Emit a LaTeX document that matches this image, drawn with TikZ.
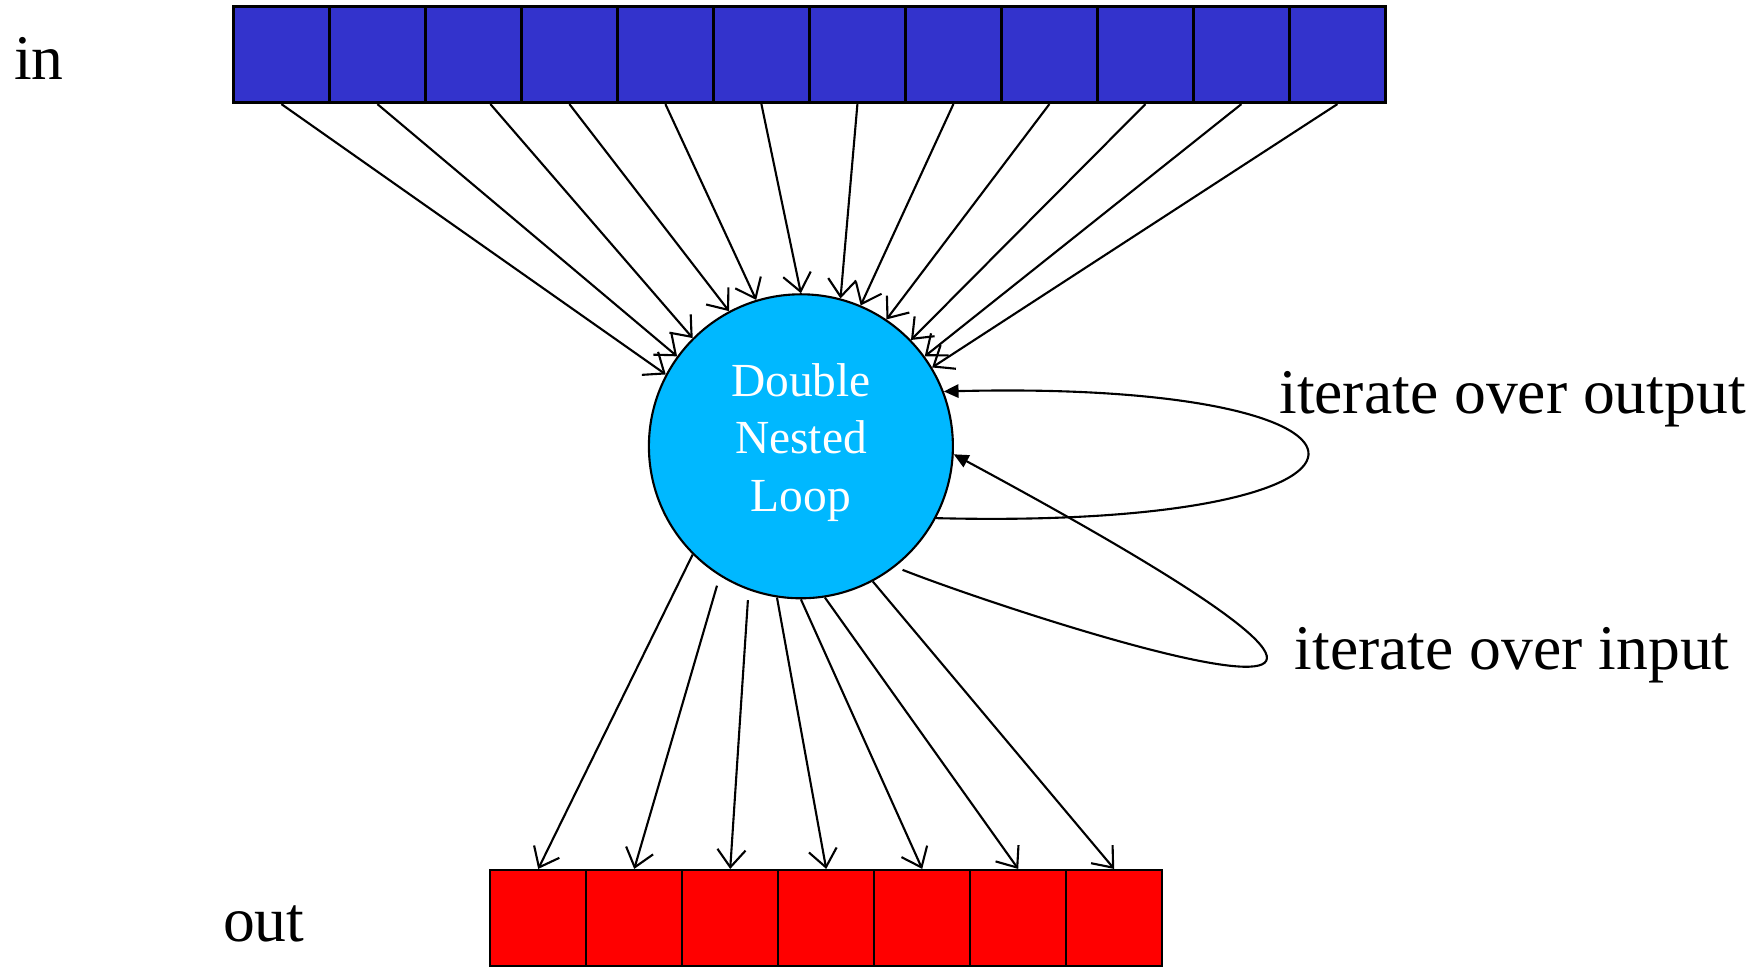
\documentclass[tikz,border=0pt]{standalone}
\usepackage{fontspec}
\setmainfont{Liberation Serif}
\usepackage{tikz}
\usetikzlibrary{shapes,arrows.meta}
\definecolor{inblue}{HTML}{3333CC}
\definecolor{loopcyan}{HTML}{00B8FF}
\definecolor{outred}{HTML}{FF0000}

\begin{document}
\begin{tikzpicture}[
    incell/.style={draw, line width=0.8pt, fill=inblue, minimum size=0.96cm, inner sep=0pt},
    outcell/.style={draw, line width=0.6pt, fill=outred, minimum size=0.96cm, inner sep=0pt},
    bigtext/.style={font=\fontsize{18.1}{22}\selectfont, inner sep=0pt},
    flow/.style={line width=0.6pt, -{Straight Barb[length=5pt,width=8pt]}},
    loopline/.style={line width=0.6pt, -{Triangle[length=4.2pt,width=3.8pt]}}
  ]
      \useasboundingbox (0,0) rectangle (17.61,9.67);

      % Input array
      \foreach \i in {1,...,12}
        \node[incell] (in\i) at ({2.334+0.96*(\i-0.5)},9.123) {};
      \node[bigtext, anchor=base west] (inlabel) at (0.134,8.877) {in};

      % Output array
      \foreach \i in {1,...,7}
        \node[outcell] (out\i) at ({4.902+0.96*(\i-0.5)},0.49) {};
      \node[bigtext, anchor=base west] (outlabel) at (2.223,0.253) {out};

      % Loop body
      \node[circle, draw, line width=0.6pt, fill=loopcyan, minimum size=3.04cm, inner sep=0pt] (dnl) at (8.009,5.207) {};
      \node[text=white, align=center, font=\fontsize{13.5}{16.4}\selectfont] (dnltext) at ([yshift=0.04cm]dnl.center) {Double\\Nested\\Loop};

      % Reads and writes
      \foreach \i/\a/\s in {1/152/0,2/144/0,3/135/0.17,4/118/0,5/107/0,6/90/0,7/75/0,8/67/0,9/56/0,10/44/0,11/36/0,12/31/0}
        \draw[flow] ([xshift=\s cm]in\i.south) -- (dnl.\a);
      \foreach \i/\a/\g in {1/225/0,2/238/0.1,3/250/0.1,4/261/0,5/270/0,6/279/0,7/298/0}
        \draw[flow, shorten <=\g cm] (dnl.\a) -- (out\i.north);

      % Self loops
      \draw[loopline] (dnl.332) .. controls +(4.929,-0.123) and +(4.852,0.118) .. (dnl.21);
      \node[bigtext, anchor=base west] (outloop) at (12.786,5.537) {iterate over output};
      \draw[loopline, shorten <=0.08cm] (dnl.308) .. controls +(1.155,-0.459) and +(6.72,-3.62) .. (dnl.357);
      \node[bigtext, anchor=base west] (inloop) at (12.942,2.97) {iterate over input};
\end{tikzpicture}
\end{document}
